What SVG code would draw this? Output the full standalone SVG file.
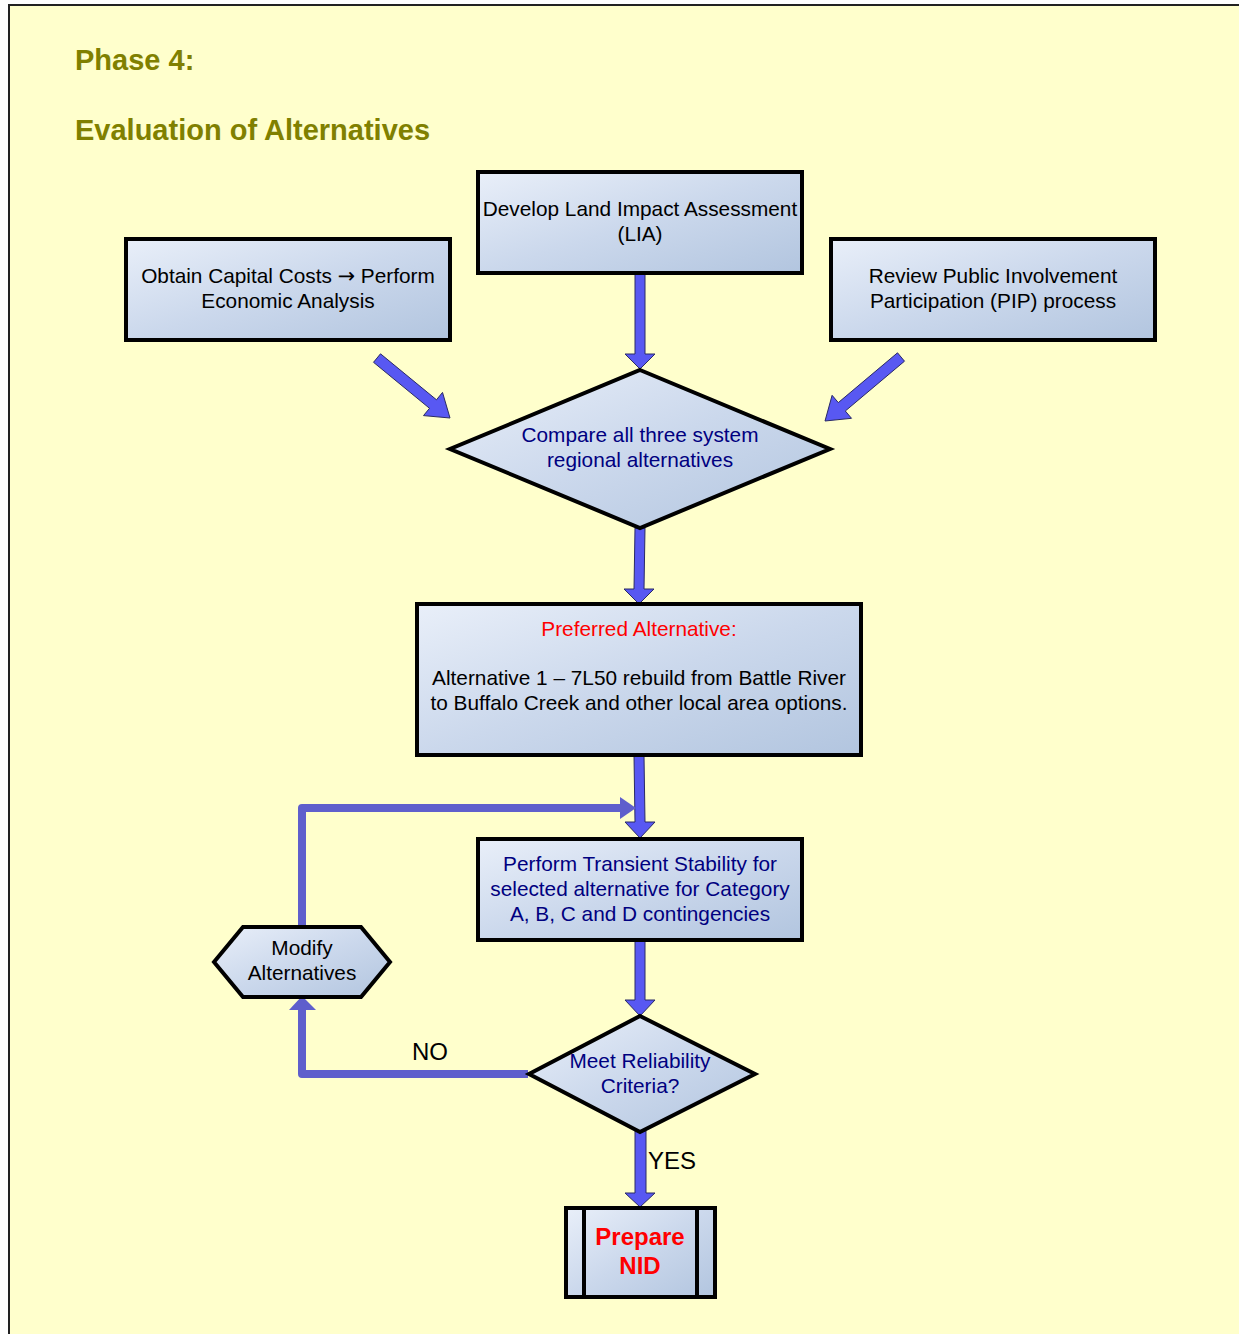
<svg xmlns="http://www.w3.org/2000/svg" width="1239" height="1334" viewBox="0 0 1239 1334">
<defs>
<linearGradient id="boxfill" x1="0" y1="0" x2="1" y2="1">
<stop offset="0" stop-color="#E9EFF9"/>
<stop offset="0.5" stop-color="#CBD8EC"/>
<stop offset="1" stop-color="#B2C5DF"/>
</linearGradient>
<style>
.node{fill:url(#boxfill);stroke:#000;stroke-width:4;stroke-linejoin:miter}
.t{font-family:"Liberation Sans",Arial,sans-serif;font-size:20.8px;text-anchor:middle;fill:#000}
.navy{fill:#000080}
.red{fill:#FF0000}
.title{font-family:"Liberation Sans",Arial,sans-serif;font-size:29px;font-weight:bold;fill:#808000}
.lbl{font-family:"Liberation Sans",Arial,sans-serif;font-size:24px;fill:#000}
.blk{fill:#5858F2;stroke:#2A2A66;stroke-width:1;stroke-linejoin:miter}
.line{fill:none;stroke:#5F5FCC;stroke-width:8;stroke-linejoin:round}
.sym{font-family:"DejaVu Sans",sans-serif}
</style>
</defs>
<rect x="0" y="0" width="1239" height="1334" fill="#FFFFFF"/>
<rect x="9" y="5" width="1240" height="1340" fill="#FFFFCC" stroke="#222" stroke-width="2"/>
<g id="title">
<text class="title" x="75" y="70">Phase 4:</text>
<text class="title" x="75" y="140">Evaluation of Alternatives</text>
</g>
<g id="connectors">
<polygon class="blk" points="635,273 645,273 645,354 655,354 640,369 625,354 635,354"/>
<polygon class="blk" points="380.5,353.8 436.5,399.8 442.5,392.4 450,418 423.5,415.6 429.5,408.3 373.5,362.3"/>
<polygon class="blk" points="897.5,352.8 838.3,402.6 832.1,395.3 825,421 851.5,418.3 845.3,411 904.5,361.2"/>
<polygon class="blk" points="635,528 645,528 644,589 654,589 639,604 624,589 634,589"/>
<polygon class="blk" points="634,755 644,755 645,822 655,822 640,838 625,822 635,822"/>
<polygon class="blk" points="635,940 645,940 645,1000 655,1000 640,1016 625,1000 635,1000"/>
<polygon class="blk" points="635,1131 646,1131 646,1193 655,1193 640,1207 625,1193 635,1193"/>
<polyline class="line" points="302,927 302,808 622,808"/>
<polygon points="620,797 636,808 620,819" fill="#5F5FCC"/>
<polyline class="line" points="528,1074 302,1074 302,1010"/>
<polygon points="289,1010 302,996 316,1010" fill="#5F5FCC"/>
<text class="lbl" x="412" y="1060">NO</text>
<text class="lbl" x="648" y="1169">YES</text>
</g>
<g id="lia">
<rect class="node" x="478" y="172" width="324" height="101"/>
<text class="t" x="640" y="216">Develop Land Impact Assessment</text>
<text class="t" x="640" y="241">(LIA)</text>
</g>
<g id="capital">
<rect class="node" x="126" y="239" width="324" height="101"/>
<text class="t" x="288" y="283">Obtain Capital Costs <tspan class="sym">→</tspan> Perform</text>
<text class="t" x="288" y="308">Economic Analysis</text>
</g>
<g id="pip">
<rect class="node" x="831" y="239" width="324" height="101"/>
<text class="t" x="993" y="283">Review Public Involvement</text>
<text class="t" x="993" y="308">Participation (PIP) process</text>
</g>
<g id="compare">
<polygon class="node" points="640,370 830,449 640,528 450,449"/>
<text class="t navy" x="640" y="442">Compare all three system</text>
<text class="t navy" x="640" y="467">regional alternatives</text>
</g>
<g id="preferred">
<rect class="node" x="417" y="604" width="444" height="151"/>
<text class="t red" x="639" y="636">Preferred Alternative:</text>
<text class="t" x="639" y="685">Alternative 1 – 7L50 rebuild from Battle River</text>
<text class="t" x="639" y="710">to Buffalo Creek and other local area options.</text>
</g>
<g id="transient">
<rect class="node" x="478" y="839" width="324" height="101"/>
<text class="t navy" x="640" y="871">Perform Transient Stability for</text>
<text class="t navy" x="640" y="896">selected alternative for Category</text>
<text class="t navy" x="640" y="921">A, B, C and D contingencies</text>
</g>
<g id="modify">
<polygon class="node" points="214,962 243,927 361,927 390,962 361,997 243,997"/>
<text class="t" x="302" y="955">Modify</text>
<text class="t" x="302" y="980">Alternatives</text>
</g>
<g id="reliability">
<polygon class="node" points="640,1016 755,1074 640,1132 529,1074"/>
<text class="t navy" x="640" y="1068">Meet Reliability</text>
<text class="t navy" x="640" y="1093">Criteria?</text>
</g>
<g id="nid">
<rect class="node" x="566" y="1208" width="149" height="89"/>
<line x1="584" y1="1208" x2="584" y2="1297" stroke="#000" stroke-width="4"/>
<line x1="697" y1="1208" x2="697" y2="1297" stroke="#000" stroke-width="4"/>
<text class="t red" x="640" y="1245" style="font-size:24px;font-weight:bold">Prepare</text>
<text class="t red" x="640" y="1274" style="font-size:24px;font-weight:bold">NID</text>
</g>
</svg>
